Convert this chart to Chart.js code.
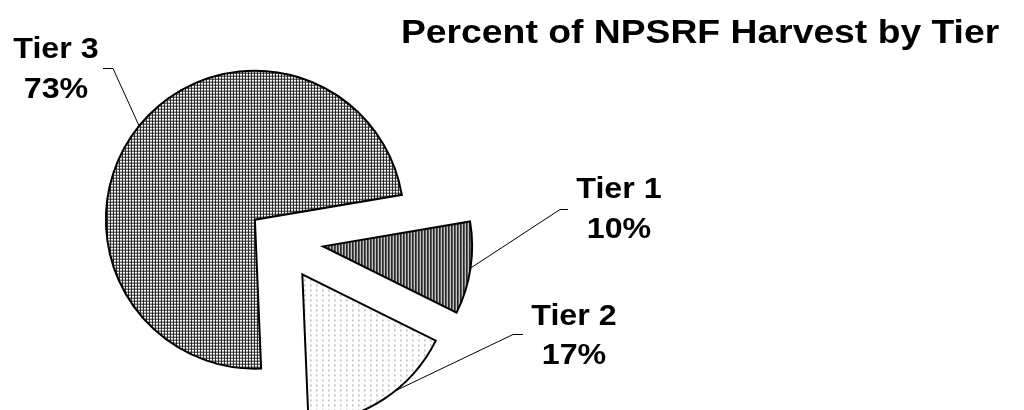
<!DOCTYPE html>
<html>
<head>
<meta charset="utf-8">
<script src="https://cdn.jsdelivr.net/npm/chart.js@4/dist/chart.umd.min.js"></script>
<style>
  html, body { margin: 0; padding: 0; background: #fff; }
  #wrap { width: 1024px; height: 410px; position: relative; }
</style>
</head>
<body>
<div id="wrap"><canvas id="c" width="1024" height="410"></canvas></div>
<script>
// ---- data ----
const chartTitle = 'Percent of NPSRF Harvest by Tier';
const categories = ['Tier 1', 'Tier 2', 'Tier 3'];
const values = [10, 17, 73];

// ---- styles / layout (not data) ----
const explodePx = [43.6, 41, 32.3];
const FONT = '"Liberation Sans", Arial, Helvetica, sans-serif';
const labelLayout = [
  { cx: 619, base1: 198, base2: 238, elbow: [560, 209], end: [568, 209], anchorShift: 0 },
  { cx: 574, base1: 325, base2: 364, elbow: [513, 334], end: [523, 334], anchorShift: -5.6 },
  { cx: 56,  base1: 58,  base2: 98,  elbow: [113, 68],  end: [103, 68], anchorShift: 0 }
];

function makePattern(w, h, painter) {
  const c = document.createElement('canvas');
  c.width = w; c.height = h;
  const g = c.getContext('2d');
  g.fillStyle = '#fff';
  g.fillRect(0, 0, w, h);
  painter(g);
  return document.getElementById('c').getContext('2d').createPattern(c, 'repeat');
}
// Tier 1: dark vertical stripes
const patStripes = makePattern(3, 1, g => {
  g.fillStyle = '#111'; g.fillRect(0, 0, 1, 1);
  g.fillStyle = '#666'; g.fillRect(1, 0, 1, 1);
  g.fillStyle = '#d0d0d0'; g.fillRect(2, 0, 1, 1);
});
// Tier 2: sparse dots
const patDots = makePattern(6, 5, g => {
  g.fillStyle = '#999'; g.fillRect(0, 0, 1, 2);
});
// Tier 3: small grid
const patGrid = makePattern(3, 3, g => {
  g.fillStyle = '#222';
  g.fillRect(0, 0, 3, 1);
  g.fillRect(0, 0, 1, 3);
});

function drawText(ctx, text, x, baseline, size, sx, align) {
  ctx.save();
  ctx.font = 'bold ' + size + 'px ' + FONT;
  ctx.textAlign = align || 'center';
  ctx.textBaseline = 'alphabetic';
  ctx.fillStyle = '#000';
  ctx.translate(x, baseline);
  ctx.scale(sx, 1);
  ctx.fillText(text, 0, 0);
  ctx.restore();
}

const explodePlugin = {
  id: 'explode',
  beforeDatasetDraw(chart, args) {
    const ctx = chart.ctx;
    args.meta.data.forEach((arc, i) => {
      const mid = (arc.startAngle + arc.endAngle) / 2;
      const d = explodePx[i] || 0;
      ctx.save();
      ctx.translate(Math.cos(mid) * d, Math.sin(mid) * d);
      arc.draw(ctx);
      ctx.restore();
    });
    return false;
  },
  afterDraw(chart) {
    const ctx = chart.ctx;
    const meta = chart.getDatasetMeta(0);
    // leader lines
    meta.data.forEach((arc, i) => {
      const mid = (arc.startAngle + arc.endAngle) / 2;
      const L = labelLayout[i];
      const d = explodePx[i] || 0;
      const vx = arc.x + Math.cos(mid) * d;
      const vy = arc.y + Math.sin(mid) * d;
      const a = mid + L.anchorShift * Math.PI / 180;
      const px = vx + Math.cos(a) * arc.outerRadius;
      const py = vy + Math.sin(a) * arc.outerRadius;
      ctx.save();
      ctx.strokeStyle = '#000';
      ctx.lineWidth = 1;
      ctx.beginPath();
      ctx.moveTo(px, py);
      ctx.lineTo(L.elbow[0], L.elbow[1] + 0.5);
      ctx.lineTo(L.end[0], L.end[1] + 0.5);
      ctx.stroke();
      ctx.restore();
    });
    // labels
    const total = values.reduce((a, b) => a + b, 0);
    categories.forEach((cat, i) => {
      const L = labelLayout[i];
      const pct = Math.round(values[i] / total * 100) + '%';
      drawText(ctx, cat, L.cx, L.base1, 29, 1.11);
      drawText(ctx, pct, L.cx, L.base2, 29, 1.11);
    });
    // title
    drawText(ctx, chartTitle, 401, 43, 33, 1.13, 'left');
  }
};

new Chart(document.getElementById('c'), {
  type: 'pie',
  data: {
    labels: categories,
    datasets: [{
      data: values,
      backgroundColor: [patStripes, patDots, patGrid],
      borderColor: '#000',
      borderWidth: 2,
      borderJoinStyle: 'miter',
      radius: 149
    }]
  },
  options: {
    responsive: false,
    animation: false,
    events: [],
    rotation: 80.4,
    layout: { padding: { left: 0, right: 464, top: 70, bottom: 0 } },
    plugins: {
      legend: { display: false },
      tooltip: { enabled: false },
      title: { display: false }
    }
  },
  plugins: [explodePlugin]
});
</script>
</body>
</html>
